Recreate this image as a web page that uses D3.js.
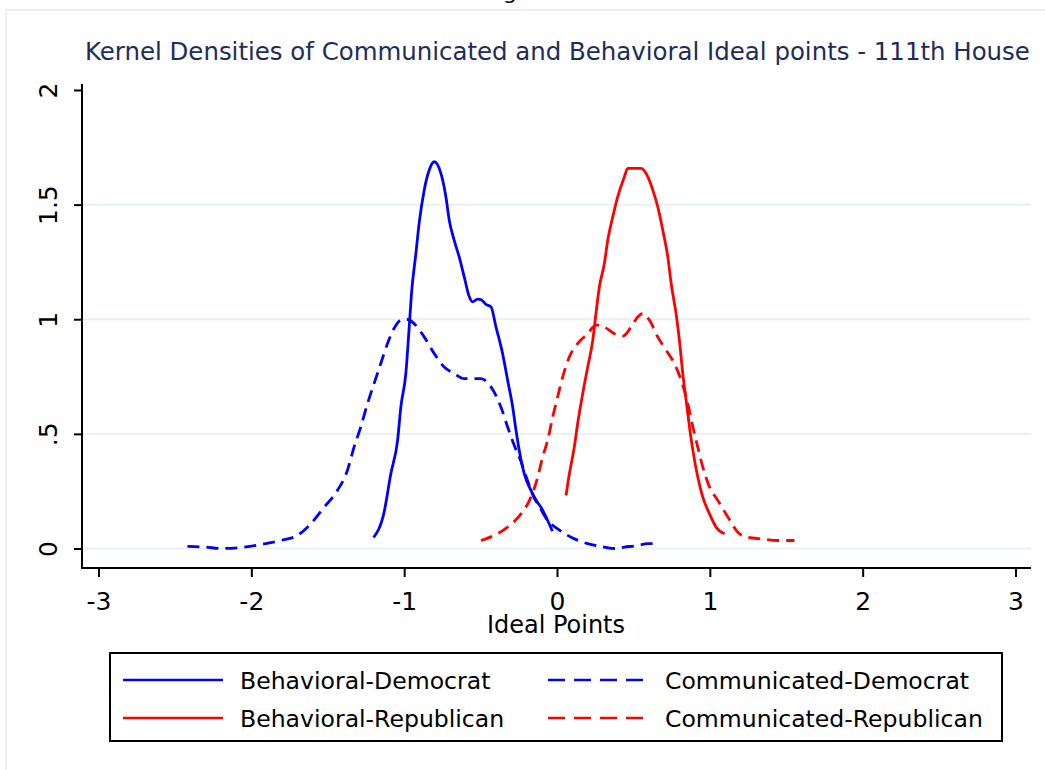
<!DOCTYPE html>
<html>
<head>
<meta charset="utf-8">
<script src="https://cdn.jsdelivr.net/npm/d3@7"></script>
<style>
  body { margin: 0; background: #fff; }
  svg { display: block; }
  text { font-family: "DejaVu Sans", "Noto Sans", sans-serif; fill: #000; }
</style>
</head>
<body>
<script>
"use strict";

const xTicks = [-3, -2, -1, 0, 1, 2, 3];
const yTicks = [0, 0.5, 1, 1.5, 2];
const yGrid = [0, 0.5, 1, 1.5];
const yTickLabels = ["0", ".5", "1", "1.5", "2"];

const behavioralDemocrat = [
	[-1.200, 0.048], [-1.133, 0.153], [-1.087, 0.327], [-1.043, 0.472], [-1.022, 0.616],
	[-0.989, 0.764], [-0.967, 0.966], [-0.952, 1.113], [-0.923, 1.288], [-0.902, 1.419],
	[-0.869, 1.563], [-0.836, 1.651], [-0.803, 1.687], [-0.760, 1.637], [-0.727, 1.534],
	[-0.705, 1.432], [-0.673, 1.345], [-0.640, 1.272], [-0.607, 1.185], [-0.574, 1.098],
	[-0.552, 1.076], [-0.520, 1.088], [-0.498, 1.086], [-0.465, 1.065], [-0.432, 1.054],
	[-0.399, 0.966], [-0.356, 0.850], [-0.323, 0.734], [-0.290, 0.617], [-0.268, 0.515],
	[-0.247, 0.428], [-0.214, 0.326], [-0.170, 0.253], [-0.126, 0.200], [-0.105, 0.180],
	[-0.061, 0.122], [-0.030, 0.075]
];

const communicatedDemocrat = [
	[-2.418, 0.009], [-2.300, 0.006], [-2.200, 0.000], [-2.091, 0.003], [-1.938, 0.017],
	[-1.807, 0.035], [-1.698, 0.057], [-1.611, 0.108], [-1.524, 0.180], [-1.437, 0.253],
	[-1.371, 0.341], [-1.328, 0.442], [-1.284, 0.530], [-1.240, 0.632], [-1.197, 0.719],
	[-1.153, 0.807], [-1.109, 0.894], [-1.066, 0.960], [-1.022, 0.996], [-0.978, 0.999],
	[-0.935, 0.981], [-0.869, 0.923], [-0.803, 0.850], [-0.738, 0.792], [-0.673, 0.763],
	[-0.607, 0.741], [-0.498, 0.741], [-0.432, 0.705], [-0.367, 0.617], [-0.323, 0.530],
	[-0.280, 0.450], [-0.236, 0.380], [-0.200, 0.310], [-0.149, 0.220], [-0.126, 0.195],
	[-0.061, 0.122], [0.004, 0.086], [0.092, 0.049], [0.201, 0.021], [0.310, 0.006],
	[0.375, 0.000], [0.441, 0.006], [0.528, 0.013], [0.594, 0.021], [0.659, 0.021]
];

const behavioralRepublican = [
	[0.059, 0.231], [0.081, 0.326], [0.113, 0.442], [0.135, 0.544], [0.168, 0.675],
	[0.201, 0.792], [0.234, 0.908], [0.255, 1.025], [0.277, 1.141], [0.310, 1.243],
	[0.332, 1.345], [0.365, 1.447], [0.397, 1.534], [0.441, 1.622], [0.463, 1.658],
	[0.550, 1.658], [0.594, 1.622], [0.627, 1.563], [0.659, 1.491], [0.692, 1.389],
	[0.725, 1.272], [0.747, 1.156], [0.779, 1.025], [0.801, 0.908], [0.823, 0.763],
	[0.845, 0.646], [0.867, 0.530], [0.889, 0.428], [0.921, 0.312], [0.954, 0.224],
	[0.998, 0.151], [1.041, 0.093], [1.096, 0.064]
];

const communicatedRepublican = [
	[-0.498, 0.035], [-0.411, 0.057], [-0.323, 0.093], [-0.236, 0.151], [-0.170, 0.224],
	[-0.126, 0.312], [-0.094, 0.399], [-0.061, 0.472], [-0.028, 0.574], [0.004, 0.661],
	[0.037, 0.748], [0.081, 0.836], [0.135, 0.894], [0.201, 0.937], [0.255, 0.974],
	[0.310, 0.966], [0.375, 0.937], [0.430, 0.926], [0.485, 0.966], [0.528, 1.010],
	[0.561, 1.025], [0.605, 0.996], [0.659, 0.923], [0.714, 0.865], [0.768, 0.807],
	[0.812, 0.734], [0.856, 0.632], [0.889, 0.530], [0.921, 0.442], [0.954, 0.355],
	[0.998, 0.268], [1.052, 0.210], [1.118, 0.137], [1.183, 0.071], [1.249, 0.049],
	[1.336, 0.042], [1.445, 0.035], [1.554, 0.035]
];

const series = [
	{ name: "Behavioral-Democrat", values: behavioralDemocrat, color: "#0000ff", dash: null },
	{ name: "Communicated-Democrat", values: communicatedDemocrat, color: "#0000ff", dash: "12,7" },
	{ name: "Behavioral-Republican", values: behavioralRepublican, color: "#ff0000", dash: null },
	{ name: "Communicated-Republican", values: communicatedRepublican, color: "#ff0000", dash: "12,7" }
];

const w = 1045;
const h = 770;
// plot region edges (axis lines)
const plotLeft = 82, plotRight = 1031, plotTop = 84, plotBottom = 568;

const xScale = d3.scaleLinear().domain([-3, 3]).range([98.5, 1015.5]);
const yScale = d3.scaleLinear().domain([0, 2]).range([548.5, 90]);

const svg = d3.select("body").append("svg").attr("width", w).attr("height", h);

function fitWidth(sel, target) {
	const size = parseFloat(sel.attr("font-size"));
	const len = sel.node().getComputedTextLength();
	sel.attr("font-size", (size * target / len).toFixed(2));
}

// page frame remnants
svg.append("line").attr("x1", 5).attr("x2", w).attr("y1", 10).attr("y2", 10)
	.attr("stroke", "#e8eef0").attr("stroke-width", 2);
svg.append("line").attr("x1", 6).attr("x2", 6).attr("y1", 10).attr("y2", h)
	.attr("stroke", "#eef3f4").attr("stroke-width", 2);
svg.append("text").attr("x", 510).attr("y", -1).attr("font-size", 22).attr("text-anchor", "middle").text("g");

const title = svg.append("text").attr("x", 85).attr("y", 60).attr("font-size", 25)
	.attr("font-family", "'Liberation Sans', Arial, sans-serif")
	.style("fill", "#1e2c5a")
	.text("Kernel Densities of Communicated and Behavioral Ideal points - 111th House");
fitWidth(title, 945);

svg.append("g").selectAll("line").data(yGrid).enter().append("line")
	.attr("x1", plotLeft).attr("x2", plotRight)
	.attr("y1", d => yScale(d)).attr("y2", d => yScale(d))
	.attr("stroke", "#e9f1f2").attr("stroke-width", 2);

const xAxis = d3.axisBottom(xScale).tickValues(xTicks).tickSize(9).tickFormat(d3.format("d"));
const yAxis = d3.axisLeft(yScale).tickValues(yTicks).tickSize(8).tickFormat((d, i) => yTickLabels[i]);

const gx = svg.append("g").attr("id", "x-axis").attr("transform", "translate(0," + plotBottom + ")").call(xAxis);
gx.select(".domain").remove();
gx.selectAll(".tick line").attr("stroke", "#000").attr("stroke-width", 2);
gx.selectAll(".tick text").attr("y", 42).attr("dy", null).attr("font-size", 25).attr("font-family", null)
	.text(d => d < 0 ? "-" + Math.abs(d) : d);

const gy = svg.append("g").attr("id", "y-axis").attr("transform", "translate(" + plotLeft + ",0)").call(yAxis);
gy.select(".domain").remove();
gy.selectAll(".tick line").attr("stroke", "#000").attr("stroke-width", 2);
gy.selectAll(".tick text").attr("x", 0).attr("y", -25).attr("dy", null)
	.attr("transform", "rotate(-90)").attr("text-anchor", "middle")
	.attr("font-size", 25).attr("font-family", null);

svg.append("line").attr("x1", plotLeft).attr("x2", plotLeft).attr("y1", plotTop).attr("y2", plotBottom + 1)
	.attr("stroke", "#000").attr("stroke-width", 2);
svg.append("line").attr("x1", plotLeft - 1).attr("x2", plotRight).attr("y1", plotBottom).attr("y2", plotBottom)
	.attr("stroke", "#000").attr("stroke-width", 2);

const xLabel = svg.append("text").attr("x", 556).attr("y", 633).attr("text-anchor", "middle")
	.attr("font-size", 21).text("Ideal Points");
fitWidth(xLabel, 138);

const line = d3.line().x(d => xScale(d[0])).y(d => yScale(d[1])).curve(d3.curveMonotoneX);

svg.append("g").selectAll("path").data(series).enter().append("path")
	.attr("d", d => line(d.values))
	.attr("fill", "none")
	.attr("stroke", d => d.color)
	.attr("stroke-width", 2.8)
	.attr("stroke-dasharray", d => d.dash)
	.attr("stroke-linejoin", "round");

// legend: behavioral in the left column, communicated in the right
const legend = svg.append("g").attr("id", "legend");
legend.append("rect").attr("x", 110).attr("y", 653).attr("width", 892).attr("height", 88)
	.attr("fill", "#fff").attr("stroke", "#000").attr("stroke-width", 2);

const colX = [123, 548];
const rowY = [680, 718];
const items = legend.selectAll("g.item").data(series).enter().append("g").attr("class", "item")
	.attr("transform", (d, i) => "translate(" + colX[i % 2] + "," + rowY[Math.floor(i / 2)] + ")");
items.append("line").attr("x1", 0).attr("x2", 100).attr("y1", 0).attr("y2", 0)
	.attr("stroke", d => d.color).attr("stroke-width", 2.5)
	.attr("stroke-dasharray", d => d.dash ? "17,9" : null);
const labels = items.append("text").attr("x", 117).attr("y", 0).attr("dy", "0.36em")
	.attr("font-size", 24).text(d => d.name);

const longest = labels.filter(d => d.name === "Communicated-Republican");
fitWidth(longest, 318);
labels.attr("font-size", longest.attr("font-size"));
</script>
</body>
</html>
